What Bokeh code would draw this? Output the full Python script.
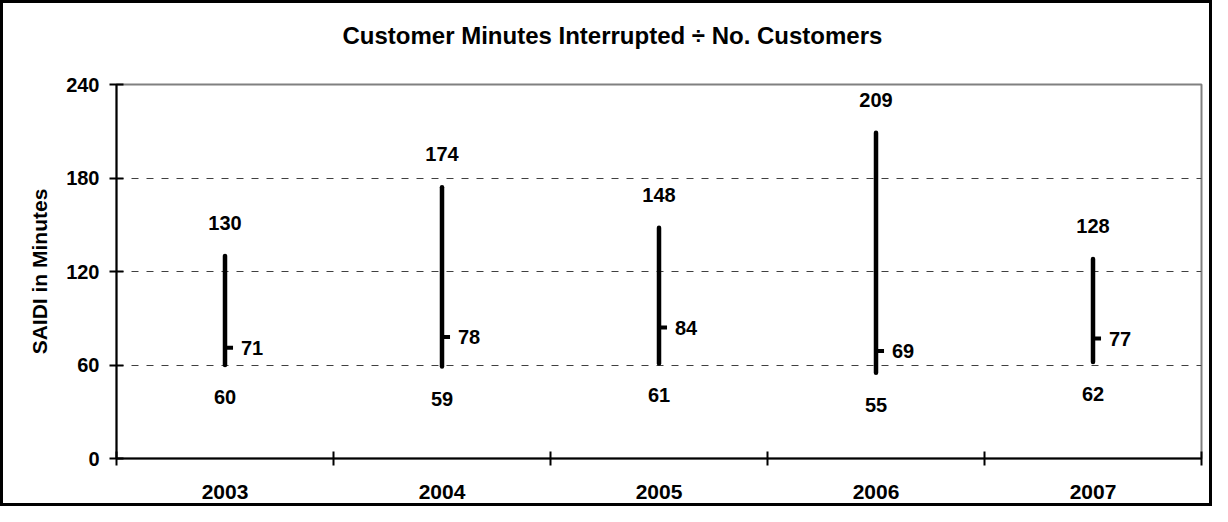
from bokeh.plotting import figure
from bokeh.models import Range1d, FixedTicker, ColumnDataSource, Title
from bokeh.embed import file_html
from bokeh.resources import INLINE
from bokeh.core.properties import value

# ---- data ----
years = ["2003", "2004", "2005", "2006", "2007"]
high = [130, 174, 148, 209, 128]
low = [60, 59, 61, 55, 62]
close = [71, 78, 84, 69, 77]
y_ticks = [0, 60, 120, 180, 240]
title_text = "Customer Minutes Interrupted \u00f7 No. Customers"
y_label = "SAIDI in Minutes"

FONT = "Liberation Sans"

x = [i + 0.5 for i in range(len(years))]
tick_len = 0.037

src = ColumnDataSource(dict(
    x=x,
    x_tick=[v + tick_len for v in x],
    high=high, low=low, close=close,
    high_lbl=[str(v) for v in high],
    low_lbl=[str(v) for v in low],
    close_lbl=[str(v) for v in close],
))

p = figure(width=1212, height=506, output_backend="svg", toolbar_location=None,
           x_range=Range1d(0, len(years)), y_range=Range1d(0, 240),
           min_border_left=113, min_border_right=14,
           min_border_top=81, min_border_bottom=51)
p.styles = {"border": "3px solid black"}
p.background_fill_color = "white"
p.border_fill_color = "white"
p.outline_line_color = "#808080"
p.outline_line_width = 2

# y axis
ya = p.yaxis[0]
ya.ticker = FixedTicker(ticks=y_ticks)
ya.major_tick_in = 7
ya.major_tick_out = 7
ya.major_tick_line_width = 2
ya.major_tick_line_color = "black"
ya.axis_line_width = 2
ya.axis_line_color = "black"
ya.major_label_text_font = FONT
ya.major_label_text_font_style = "bold"
ya.major_label_text_font_size = "20px"
ya.major_label_text_color = "black"
ya.major_label_standoff = 10
ya.axis_label = y_label
ya.axis_label_text_font = FONT
ya.axis_label_text_font_style = "bold"
ya.axis_label_text_font_size = "21px"
ya.axis_label_text_color = "black"
ya.axis_label_standoff = 12

# x axis
xa = p.xaxis[0]
xa.ticker = FixedTicker(ticks=x, minor_ticks=list(range(len(years) + 1)))
xa.major_label_overrides = {xv: yr for xv, yr in zip(x, years)}
xa.major_tick_in = 0
xa.major_tick_out = 0
xa.minor_tick_in = 7
xa.minor_tick_out = 7
xa.minor_tick_line_width = 2
xa.minor_tick_line_color = "black"
xa.axis_line_width = 2
xa.axis_line_color = "black"
xa.major_label_text_font = FONT
xa.major_label_text_font_style = "bold"
xa.major_label_text_font_size = "21px"
xa.major_label_text_color = "black"
xa.major_label_standoff = 19

# grid
p.xgrid.visible = False
p.ygrid.ticker = FixedTicker(ticks=[60, 120, 180])
p.ygrid.grid_line_color = "#404040"
p.ygrid.grid_line_width = 1
p.ygrid.grid_line_dash = "7 8"

# high-low lines
p.segment(x0="x", y0="low", x1="x", y1="high", source=src,
          line_color="black", line_width=4.5, line_cap="round")
# close ticks
p.segment(x0="x", y0="close", x1="x_tick", y1="close", source=src,
          line_color="black", line_width=4, line_cap="butt")

common = dict(source=src, text_font=value(FONT), text_font_style="bold",
              text_font_size="20px", text_color="black")
p.text(x="x", y="high", text="high_lbl", text_align="center",
       text_baseline="alphabetic", y_offset=-33, **common)
p.text(x="x", y="low", text="low_lbl", text_align="center",
       text_baseline="top", y_offset=25, **common)
p.text(x="x", y="close", text="close_lbl", text_align="left",
       text_baseline="middle", x_offset=16, **common)

# invisible spacer between the frame and the title
spacer = Title(text=" ", text_font_size="10px", standoff=23, text_color="white")
p.add_layout(spacer, "above")

title = Title(text=title_text, align="left", offset=226, standoff=0,
              vertical_align="bottom",
              text_font=FONT, text_font_style="bold", text_font_size="24px",
              text_color="black")
p.add_layout(title, "above")

open("out.html", "w").write(file_html(p, INLINE))
